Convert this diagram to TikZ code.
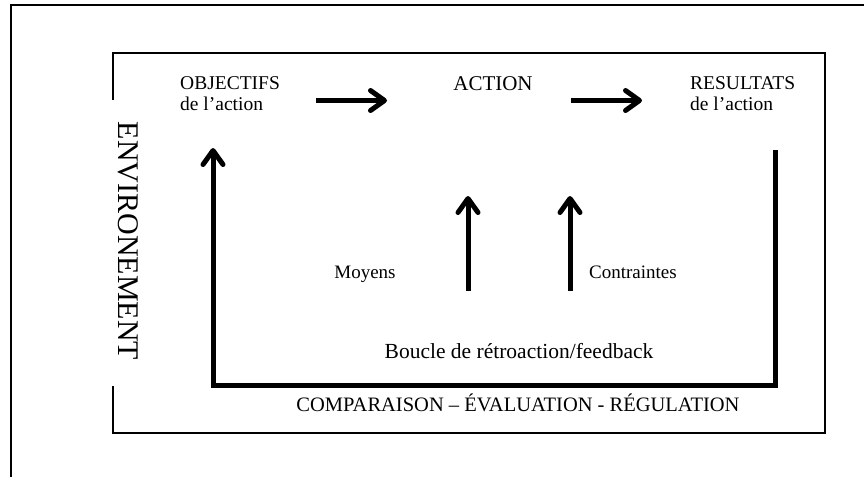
\documentclass[tikz,border=0pt]{standalone}
\usepackage{fontspec}
\setmainfont{Liberation Serif}
\usetikzlibrary{arrows.meta}
\tikzset{
  lbl/.style={inner sep=0pt, font=\fontsize{19.5}{21}\selectfont},
  big/.style={inner sep=0pt, font=\fontsize{30}{32}\selectfont},
  frame/.style={line width=1.6pt},
  thick arrow/.style={line width=5pt, -{Straight Barb[length=14pt,width=20pt,round]}},
}
\begin{document}
\begin{tikzpicture}[x=1pt,y=-1pt]
\useasboundingbox (0,0) rectangle (864,477);
% outer frame
\draw[frame] (11,477) -- (11,5) -- (864,5);
% inner frame with gap for label
\draw[frame] (113,100) -- (113,53) -- (825,53) -- (825,433) -- (113,433) -- (113,386);
\node[big, rotate=-90] (env) at (128,241) {ENVIRONEMENT};
% texts
\node[lbl, anchor=base west, align=left] (obj) at (180,110) {OBJECTIFS\\de l’action};
\node[lbl, anchor=base, font=\fontsize{21}{22}\selectfont] (act) at (493,90) {ACTION};
\node[lbl, anchor=base west, align=left] (res) at (690,110) {RESULTATS\\de l’action};
\node[lbl, anchor=base, font=\fontsize{19}{21}\selectfont] (moy) at (365,278) {Moyens};
\node[lbl, anchor=base west, font=\fontsize{19}{21}\selectfont] (con) at (589,278) {Contraintes};
\node[lbl, anchor=base, font=\fontsize{21.5}{23}\selectfont] (bou) at (519,358) {Boucle de rétroaction/feedback};
\node[lbl, anchor=base, font=\fontsize{20.5}{22}\selectfont] (cmp) at (518,411) {COMPARAISON – ÉVALUATION - RÉGULATION};
% coordinates
\coordinate (a1s) at (316,100.5);
\coordinate (a1e) at (387,100.5);
\coordinate (a2s) at (571,100.5);
\coordinate (a2e) at (642,100.5);
\coordinate (m1s) at (468,291);
\coordinate (m1e) at (468,196);
\coordinate (m2s) at (570,291);
\coordinate (m2e) at (570,196);
\coordinate (fbs) at (775,150);
\coordinate (fbr) at (775,385);
\coordinate (fbl) at (213,385);
\coordinate (fbe) at (213,148);
% arrows
\draw[thick arrow] (a1s) -- (a1e);
\draw[thick arrow] (a2s) -- (a2e);
\draw[thick arrow] (m1s) -- (m1e);
\draw[thick arrow] (m2s) -- (m2e);
\draw[thick arrow, line join=miter] (fbs) -- (fbr) -- (fbl) -- (fbe);
\end{tikzpicture}
\end{document}
